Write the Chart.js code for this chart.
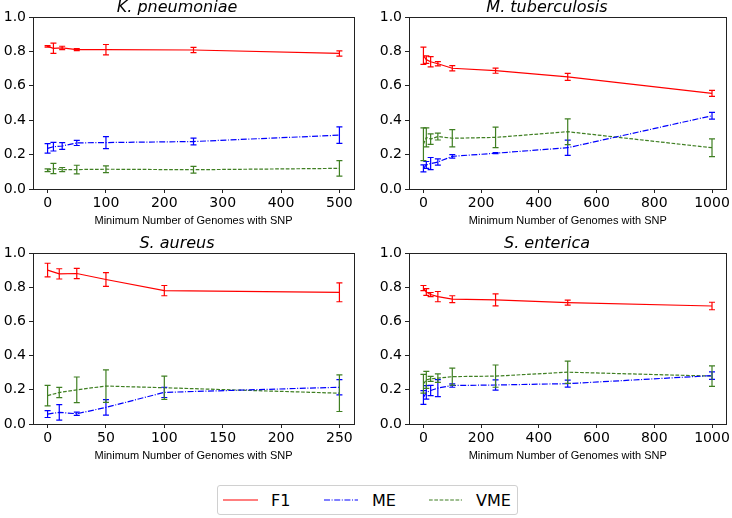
<!DOCTYPE html>
<html>
<head>
<meta charset="utf-8">
<script src="https://cdn.jsdelivr.net/npm/chart.js@4.4.1/dist/chart.umd.min.js"></script>
<style>
  body { margin: 0; background: #fff; width: 732px; height: 518px; position: relative; overflow: hidden; font-family: "DejaVu Sans", sans-serif; }
  .cell { position: absolute; }
  #legend { position: absolute; left: 217px; top: 485px; width: 299px; height: 28px; border: 1px solid #d0d0d0; border-radius: 3px; }
</style>
</head>
<body>
<div class="cell" style="left:0;top:-1px;width:366px;height:241px"><canvas id="kp"></canvas></div>
<div class="cell" style="left:366px;top:-1px;width:366px;height:241px"><canvas id="mt"></canvas></div>
<div class="cell" style="left:0;top:235px;width:366px;height:240px"><canvas id="sa"></canvas></div>
<div class="cell" style="left:366px;top:235px;width:366px;height:240px"><canvas id="se"></canvas></div>
<div id="legend">
  <svg width="299" height="28">
    <line x1="5" y1="14" x2="40" y2="14" stroke="red" stroke-width="1.2"/>
    <text x="53" y="14" dominant-baseline="central" font-size="16" font-family="DejaVu Sans">F1</text>
    <line x1="106" y1="14" x2="140" y2="14" stroke="blue" stroke-width="1.2" stroke-dasharray="6,1.6,1,1.6"/>
    <text x="154" y="14" dominant-baseline="central" font-size="16" font-family="DejaVu Sans">ME</text>
    <line x1="211" y1="14" x2="244" y2="14" stroke="#3f7f22" stroke-width="1.2" stroke-dasharray="3.7,1.6"/>
    <text x="258" y="14" dominant-baseline="central" font-size="16" font-family="DejaVu Sans">VME</text>
  </svg>
</div>
<script>
// K. pneumoniae
const kpGenomes = [0, 10, 25, 50, 100, 250, 500];
const kpF1 = [0.829, 0.818, 0.82, 0.81, 0.81, 0.808, 0.788];
const kpF1Err = [0.004, 0.03, 0.01, 0.006, 0.03, 0.015, 0.015];
const kpME = [0.236, 0.246, 0.25, 0.268, 0.27, 0.276, 0.313];
const kpMEErr = [0.028, 0.025, 0.02, 0.015, 0.035, 0.02, 0.048];
const kpVME = [0.109, 0.119, 0.113, 0.113, 0.115, 0.112, 0.12];
const kpVMEErr = [0.008, 0.03, 0.012, 0.025, 0.02, 0.02, 0.045];

// M. tuberculosis
const mtGenomes = [0, 10, 25, 50, 100, 250, 500, 1000];
const mtF1 = [0.775, 0.752, 0.74, 0.728, 0.702, 0.688, 0.652, 0.556];
const mtF1Err = [0.05, 0.022, 0.03, 0.012, 0.015, 0.015, 0.02, 0.017];
const mtME = [0.12, 0.14, 0.148, 0.157, 0.19, 0.208, 0.24, 0.426];
const mtMEErr = [0.02, 0.02, 0.035, 0.018, 0.01, 0.003, 0.044, 0.02];
const mtVME = [0.26, 0.3, 0.29, 0.305, 0.295, 0.3, 0.333, 0.24];
const mtVMEErr = [0.095, 0.055, 0.03, 0.02, 0.05, 0.06, 0.075, 0.052];

// S. aureus
const saGenomes = [0, 10, 25, 50, 100, 250];
const saF1 = [0.9, 0.878, 0.88, 0.845, 0.78, 0.77];
const saF1Err = [0.04, 0.03, 0.03, 0.04, 0.03, 0.055];
const saME = [0.058, 0.068, 0.06, 0.097, 0.185, 0.215];
const saMEErr = [0.02, 0.045, 0.01, 0.045, 0.03, 0.045];
const saVME = [0.166, 0.184, 0.2, 0.222, 0.212, 0.18];
const saVMEErr = [0.06, 0.03, 0.075, 0.095, 0.068, 0.107];

// S. enterica
const seGenomes = [0, 10, 25, 50, 100, 250, 500, 1000];
const seF1 = [0.795, 0.772, 0.757, 0.745, 0.73, 0.726, 0.71, 0.69];
const seF1Err = [0.015, 0.02, 0.012, 0.03, 0.02, 0.035, 0.015, 0.022];
const seME = [0.155, 0.185, 0.196, 0.21, 0.225, 0.228, 0.236, 0.283];
const seMEErr = [0.04, 0.04, 0.03, 0.05, 0.01, 0.03, 0.02, 0.022];
const seVME = [0.235, 0.258, 0.264, 0.268, 0.277, 0.28, 0.303, 0.28];
const seVMEErr = [0.055, 0.05, 0.015, 0.025, 0.05, 0.065, 0.065, 0.06];

const F1_COLOR = '#ff0000';
const ME_COLOR = '#0000ff';
const VME_COLOR = '#3f7f22';

// draws the vertical error bars with caps
const errorBars = {
  id: 'errorBars',
  afterDatasetsDraw(chart) {
    const { ctx, scales: { x, y } } = chart;
    chart.data.datasets.forEach(ds => {
      if (!ds.errors) return;
      ctx.save();
      ctx.strokeStyle = ds.borderColor;
      ctx.lineWidth = 1.2;
      ctx.setLineDash([]);
      ds.data.forEach((pt, j) => {
        const px = x.getPixelForValue(pt.x);
        const top = y.getPixelForValue(pt.y + ds.errors[j]);
        const bot = y.getPixelForValue(pt.y - ds.errors[j]);
        ctx.beginPath();
        ctx.moveTo(px, top); ctx.lineTo(px, bot);
        ctx.moveTo(px - 3, top); ctx.lineTo(px + 3, top);
        ctx.moveTo(px - 3, bot); ctx.lineTo(px + 3, bot);
        ctx.stroke();
      });
      ctx.restore();
    });
  }
};

// box round the plot area, like matplotlib spines
const frame = {
  id: 'frame',
  afterDraw(chart) {
    const { ctx, chartArea: a } = chart;
    ctx.save();
    ctx.strokeStyle = '#222';
    ctx.lineWidth = 1;
    ctx.strokeRect(Math.round(a.left) + 0.5, Math.round(a.top) + 0.5,
      Math.round(a.right - a.left), Math.round(a.bottom - a.top));
    ctx.restore();
  }
};

function points(xs, ys) {
  return xs.map((x, i) => ({ x: x, y: ys[i] }));
}

function makeChart(id, title, genomes, f1, f1Err, me, meErr, vme, vmeErr, xMax, xStep, yWidth, padRight) {
  const margin = xMax * 0.05;
  const xTicks = [];
  for (let v = 0; v <= xMax; v += xStep) xTicks.push(v);

  new Chart(document.getElementById(id), {
    type: 'line',
    data: {
      datasets: [
        { label: 'F1', data: points(genomes, f1), errors: f1Err, borderColor: F1_COLOR, borderWidth: 1.2 },
        { label: 'ME', data: points(genomes, me), errors: meErr, borderColor: ME_COLOR, borderWidth: 1.2, borderDash: [6, 1.6, 1, 1.6] },
        { label: 'VME', data: points(genomes, vme), errors: vmeErr, borderColor: VME_COLOR, borderWidth: 1.2, borderDash: [3.7, 1.6] }
      ]
    },
    options: {
      responsive: true,
      maintainAspectRatio: false,
      animation: false,
      elements: { point: { radius: 0 }, line: { tension: 0, fill: false } },
      layout: { padding: { left: 0, right: padRight, top: 0, bottom: 0 } },
      plugins: {
        legend: { display: false },
        tooltip: { enabled: false },
        title: {
          display: true,
          text: title,
          color: '#000',
          padding: { top: 0, bottom: 0 },
          font: { family: 'DejaVu Sans', size: 16, style: 'italic', weight: 'normal', lineHeight: 1.125 }
        }
      },
      scales: {
        x: {
          type: 'linear',
          min: -margin,
          max: xMax + margin,
          afterBuildTicks: scale => { scale.ticks = xTicks.map(v => ({ value: v })); },
          afterFit: scale => { scale.height = 51; },
          ticks: { color: '#000', padding: 2, maxRotation: 0, font: { family: 'DejaVu Sans', size: 14 }, callback: v => String(v) },
          grid: { drawOnChartArea: false, drawTicks: true, tickLength: 4, color: '#222' },
          border: { display: true, color: '#222' },
          title: {
            display: true,
            text: 'Minimum Number of Genomes with SNP',
            color: '#000',
            padding: { top: 0, bottom: 12 },
            font: { family: 'Liberation Sans', size: 11 }
          }
        },
        y: {
          min: 0,
          max: 1,
          afterFit: scale => { scale.width = yWidth; },
          ticks: { stepSize: 0.2, color: '#000', padding: 3, font: { family: 'DejaVu Sans', size: 14 }, callback: v => v.toFixed(1) },
          grid: { drawOnChartArea: false, drawTicks: true, tickLength: 4, color: '#222' },
          border: { display: true, color: '#222' }
        }
      }
    },
    plugins: [errorBars, frame]
  });
}

makeChart('kp', 'K. pneumoniae', kpGenomes, kpF1, kpF1Err, kpME, kpMEErr, kpVME, kpVMEErr, 500, 100, 33, 12);
makeChart('mt', 'M. tuberculosis', mtGenomes, mtF1, mtF1Err, mtME, mtMEErr, mtVME, mtVMEErr, 1000, 200, 43, 4);
makeChart('sa', 'S. aureus', saGenomes, saF1, saF1Err, saME, saMEErr, saVME, saVMEErr, 250, 50, 33, 12);
makeChart('se', 'S. enterica', seGenomes, seF1, seF1Err, seME, seMEErr, seVME, seVMEErr, 1000, 200, 43, 4);
</script>
</body>
</html>
